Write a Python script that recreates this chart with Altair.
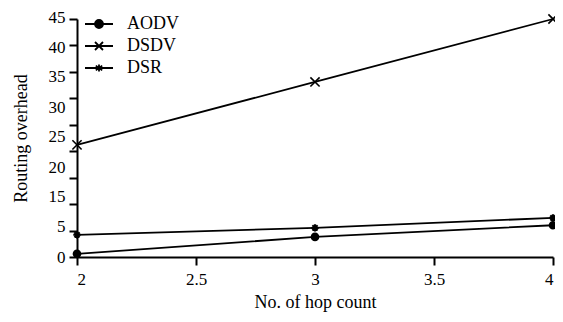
import altair as alt
import pandas as pd

hops = [2, 3, 4]
aodv = [0.6, 3.8, 6.0]
dsdv = [21.2, 33.1, 45.0]
dsr = [4.2, 5.5, 7.4]
series_names = ["AODV", "DSDV", "DSR"]
y_ticks = [0, 5, 10, 15, 20, 25, 30, 35, 40, 45]
x_ticks = [2, 2.5, 3, 3.5, 4]

rows = []
for name, vals in zip(series_names, [aodv, dsdv, dsr]):
    for h, v in zip(hops, vals):
        rows.append({"hop": h, "overhead": v, "protocol": name})
df = pd.DataFrame(rows)

FONT = "Liberation Serif"
CIRCLE = "M1,0A1,1,0,1,1,-1,0A1,1,0,1,1,1,0Z"
XPATH = "M-1,-1L1,1M-1,1L1,-1"
AST = "M0,-1L0,1M-1,0L1,0M-0.7,-0.7L0.7,0.7M-0.7,0.7L0.7,-0.7"
LEG_LINE = "M-3.5,0L3.5,0"
leg_paths = [LEG_LINE + "M1,0A1,1,0,1,1,-1,0A1,1,0,1,1,1,0Z",
             LEG_LINE + "M-1,-1L1,1M-1,1L1,-1",
             LEG_LINE + "M0,-0.9L0,0.9M-0.8,-0.6L0.8,0.6M-0.8,0.6L0.8,-0.6"]

offsets = {45: -2, 40: 2, 35: 5, 30: 9, 25: 12, 20: 16, 15: 19, 5: -4}
cond = [{"test": f"datum.value == {k}", "value": v} for k, v in offsets.items()]

x = alt.X("hop:Q", scale=alt.Scale(domain=[2, 4], nice=False),
          axis=alt.Axis(values=x_ticks, title="No. of  hop count", format="~g",
                        grid=False, domain=True, domainWidth=2, tickWidth=2,
                        tickSize=8, labelPadding=6, titlePadding=6,
                        domainColor="black", tickColor="black",
                        labelFont=FONT, labelFontSize=17, titleFont=FONT,
                        titleFontSize=18, titleFontWeight="normal",
                        labelColor="black", titleColor="black"))
y = alt.Y("overhead:Q", scale=alt.Scale(domain=[0, 45], nice=False),
          axis=alt.Axis(values=y_ticks, title="Routing overhead", grid=False,
                        labelExpr="datum.value == 10 ? '' : datum.label",
                        labelOffset={"condition": cond, "value": 0},
                        domainWidth=2, tickWidth=2, tickSize=8, labelPadding=4,
                        titlePadding=18, domainColor="black", tickColor="black",
                        labelFont=FONT, labelFontSize=17, titleFont=FONT,
                        titleFontSize=18, titleFontWeight="normal",
                        labelColor="black", titleColor="black"))

base = alt.Chart(df)
lines = base.mark_line(color="black", strokeWidth=1.8).encode(
    x=x, y=y, detail="protocol:N")
p_aodv = base.transform_filter("datum.protocol == 'AODV'").mark_point(
    shape=CIRCLE, filled=True, color="black", size=75, opacity=1).encode(x=x, y=y)
p_dsdv = base.transform_filter("datum.protocol == 'DSDV'").mark_point(
    shape=XPATH, filled=False, color="black", size=85, strokeWidth=1.6, opacity=1).encode(x=x, y=y)
p_dsr = base.transform_filter("datum.protocol == 'DSR'").mark_point(
    shape=AST, filled=False, color="black", size=55, strokeWidth=2, opacity=1).encode(x=x, y=y)

def leg():
    return alt.Legend(title=None, orient="none", legendX=13, legendY=-4,
                      symbolSize=64, symbolOpacity=1, symbolStrokeWidth=1.8,
                      labelOffset=19, labelFont=FONT, labelFontSize=18,
                      labelColor="black", rowPadding=4)

blacks = ["black", "black", "black"]
legend_layer = base.mark_point(opacity=0, filled=False, strokeWidth=1.8).encode(
    x=x, y=y,
    shape=alt.Shape("protocol:N", scale=alt.Scale(domain=series_names, range=leg_paths),
                    legend=leg()),
    fill=alt.Fill("protocol:N", scale=alt.Scale(domain=series_names, range=blacks),
                  legend=leg()),
    stroke=alt.Stroke("protocol:N", scale=alt.Scale(domain=series_names, range=blacks),
                      legend=leg()))

chart = alt.layer(lines, p_aodv, p_dsdv, p_dsr, legend_layer).properties(
    width=476, height=238, background="white",
    autosize=alt.AutoSizeParams(type="none"),
    padding={"left": 69, "top": 11, "right": 2, "bottom": 57}
).configure_view(stroke=None)

chart.save("out.html", embed_options={"renderer": "svg", "actions": False})
